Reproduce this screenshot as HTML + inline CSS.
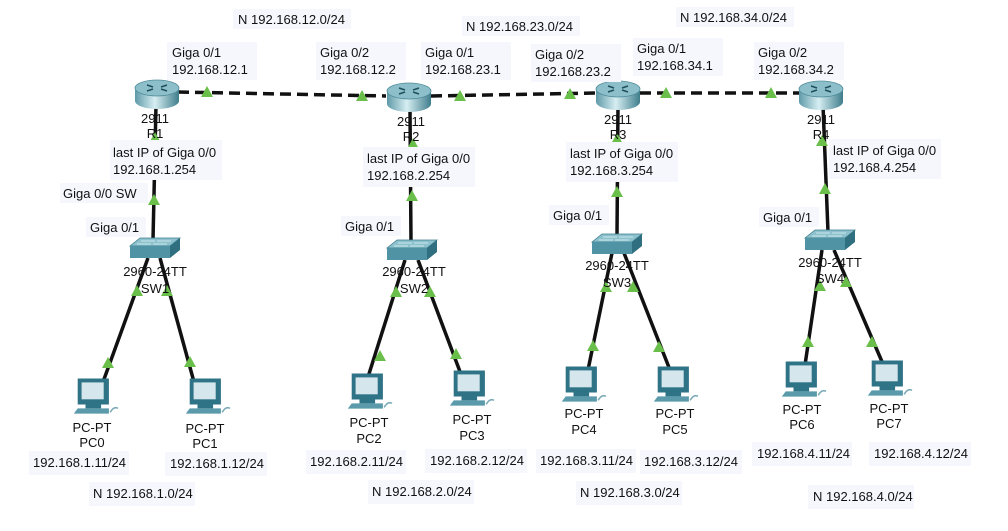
<!DOCTYPE html>
<html><head><meta charset="utf-8"><style>
html,body{margin:0;padding:0;background:#fff;}
svg{display:block;font-family:"Liberation Sans",Arial,sans-serif;font-size:13px;}
.bg{fill:#f5f7fd;}
</style></head><body>
<svg width="1008" height="531" viewBox="0 0 1008 531">
<defs>
<linearGradient id="rg" x1="0" x2="1" y1="0" y2="0">
<stop offset="0" stop-color="#5f9aa8"/><stop offset="0.45" stop-color="#d6eef2"/><stop offset="1" stop-color="#3f7d8c"/>
</linearGradient>
<g id="router">
<path d="M-22,0 L-22,13 A22,8 0 0 0 22,13 L22,0 Z" fill="url(#rg)"/>
<ellipse cx="0" cy="0" rx="22" ry="8" fill="#8dbfca" stroke="#4e8b99" stroke-width="0.8"/>
<path d="M-10,-3 l6,2 M10,-3 l-6,2 M-10,3 l6,-2 M10,3 l-6,-2" stroke="#1f4f5c" stroke-width="1.5"/>
</g>
<g id="sw">
<path d="M-25,-2 L-15,-10 L25,-10 L15,-2 Z" fill="#8cc1cd" stroke="#3d7d8c" stroke-width="0.8"/>
<path d="M-25,-2 L15,-2 L15,10 L-25,10 Z" fill="#4f93a5"/>
<path d="M15,-2 L25,-10 L25,2 L15,10 Z" fill="#2f6f80"/>
<path d="M-14,-7 h14 M2,-7 h14 M-18,-4 h14 M-2,-4 h14" stroke="#e0f2f5" stroke-width="0.8"/>
</g>
<g id="pc">
<g transform="scale(1.3)">
<rect x="-11" y="-15" width="24" height="20" fill="#2f7387"/>
<rect x="-8" y="-12" width="17" height="13" fill="#d5e6ec"/>
<rect x="-5" y="5" width="12" height="3" fill="#2f7387"/>
<path d="M-14,12 L-11,8 L13,8 L13,12 Z" fill="#5b9aab"/>
<path d="M14,11 q3,-5 6,-3" stroke="#7aaab6" fill="none" stroke-width="1.2"/>
</g>
</g>
<path id="tri" d="M-6,5 L6,5 L0,-6 Z" fill="#6abf4b"/>
</defs>

<g stroke="#111" stroke-width="3.5" stroke-dasharray="11,6" fill="none">
<line x1="178" y1="92" x2="386" y2="96"/>
<line x1="431" y1="96" x2="596" y2="93"/>
<line x1="640" y1="93" x2="800" y2="93"/>
</g>
<g stroke="#111" stroke-width="3.5" fill="none">
<line x1="156" y1="105" x2="153" y2="240"/>
<line x1="410" y1="110" x2="411" y2="242"/>
<line x1="618" y1="105" x2="617" y2="235"/>
<line x1="823" y1="105" x2="828" y2="232"/>
<line x1="148" y1="258" x2="103" y2="382"/>
<line x1="160" y1="258" x2="194" y2="382"/>
<line x1="405" y1="260" x2="368" y2="377"/>
<line x1="418" y1="260" x2="462" y2="377"/>
<line x1="612" y1="253" x2="588" y2="370"/>
<line x1="624" y1="253" x2="670" y2="370"/>
<line x1="822" y1="250" x2="805" y2="365"/>
<line x1="834" y1="250" x2="883" y2="364"/>
</g>

<use href="#router" x="157" y="88"/>
<use href="#router" x="409" y="91"/>
<use href="#router" x="618" y="89"/>
<use href="#router" x="821" y="89"/>
<use href="#sw" x="155" y="248"/>
<use href="#sw" x="412" y="250"/>
<use href="#sw" x="617" y="244"/>
<use href="#sw" x="830" y="240"/>
<use href="#pc" x="92" y="398"/>
<use href="#pc" x="204" y="398"/>
<use href="#pc" x="366" y="393"/>
<use href="#pc" x="468" y="390"/>
<use href="#pc" x="580" y="386"/>
<use href="#pc" x="672" y="386"/>
<use href="#pc" x="800" y="381"/>
<use href="#pc" x="886" y="380"/>

<use href="#tri" x="207" y="92"/><use href="#tri" x="362" y="96"/>
<use href="#tri" x="460" y="96"/><use href="#tri" x="570" y="94"/>
<use href="#tri" x="666" y="93"/><use href="#tri" x="771" y="93"/>
<use href="#tri" x="155" y="138"/><use href="#tri" x="154" y="200"/>
<use href="#tri" x="413" y="144"/><use href="#tri" x="412" y="196"/>
<use href="#tri" x="617" y="139"/><use href="#tri" x="617" y="192"/>
<use href="#tri" x="822" y="141"/><use href="#tri" x="825" y="189"/>
<use href="#tri" x="137" y="291"/><use href="#tri" x="167" y="291"/>
<use href="#tri" x="108" y="363"/><use href="#tri" x="190" y="362"/>
<use href="#tri" x="396" y="292"/><use href="#tri" x="430" y="292"/>
<use href="#tri" x="380" y="356"/><use href="#tri" x="456" y="354"/>
<use href="#tri" x="606" y="287"/><use href="#tri" x="633" y="287"/>
<use href="#tri" x="593" y="346"/><use href="#tri" x="659" y="347"/>
<use href="#tri" x="820" y="286"/><use href="#tri" x="846" y="282"/>
<use href="#tri" x="808" y="342"/><use href="#tri" x="872" y="342"/>

<g class="bg">
<rect x="233" y="9" width="118" height="20"/>
<rect x="167" y="42" width="90" height="38"/>
<rect x="316" y="42" width="90" height="38"/>
<rect x="421" y="42" width="90" height="38"/>
<rect x="462" y="16" width="118" height="20"/>
<rect x="531" y="44" width="90" height="38"/>
<rect x="633" y="38" width="90" height="38"/>
<rect x="676" y="7" width="118" height="20"/>
<rect x="754" y="42" width="90" height="38"/>
<rect x="110" y="140" width="112" height="40"/>
<rect x="363" y="147" width="112" height="40"/>
<rect x="566" y="142" width="112" height="40"/>
<rect x="829" y="139" width="112" height="40"/>
<rect x="60" y="183" width="88" height="20"/>
<rect x="86" y="217" width="60" height="20"/>
<rect x="341" y="216" width="60" height="20"/>
<rect x="549" y="205" width="60" height="20"/>
<rect x="759" y="207" width="60" height="20"/>
<rect x="29" y="451" width="100" height="24"/>
<rect x="165" y="452" width="102" height="24"/>
<rect x="306" y="450" width="100" height="24"/>
<rect x="425" y="449" width="102" height="24"/>
<rect x="536" y="449" width="100" height="24"/>
<rect x="640" y="450" width="102" height="24"/>
<rect x="752" y="442" width="100" height="24"/>
<rect x="869" y="442" width="102" height="24"/>
<rect x="89" y="482" width="106" height="24"/>
<rect x="368" y="480" width="106" height="24"/>
<rect x="576" y="481" width="106" height="24"/>
<rect x="808" y="485" width="106" height="24"/>
</g>

<g fill="#111">
<text x="238" y="24">N 192.168.12.0/24</text>
<text x="466" y="31">N 192.168.23.0/24</text>
<text x="680" y="22">N 192.168.34.0/24</text>
<text x="172" y="57">Giga 0/1</text><text x="172" y="74">192.168.12.1</text>
<text x="320" y="57">Giga 0/2</text><text x="320" y="74">192.168.12.2</text>
<text x="425" y="57">Giga 0/1</text><text x="425" y="74">192.168.23.1</text>
<text x="535" y="59">Giga 0/2</text><text x="535" y="76">192.168.23.2</text>
<text x="637" y="53">Giga 0/1</text><text x="637" y="70">192.168.34.1</text>
<text x="758" y="57">Giga 0/2</text><text x="758" y="74">192.168.34.2</text>
<text x="113" y="157">last IP of Giga 0/0</text><text x="113" y="174">192.168.1.254</text>
<text x="367" y="163">last IP of Giga 0/0</text><text x="367" y="180">192.168.2.254</text>
<text x="570" y="158">last IP of Giga 0/0</text><text x="570" y="175">192.168.3.254</text>
<text x="833" y="155">last IP of Giga 0/0</text><text x="833" y="172">192.168.4.254</text>
<text x="63" y="198">Giga 0/0 SW</text>
<text x="90" y="232">Giga 0/1</text>
<text x="345" y="231">Giga 0/1</text>
<text x="553" y="220">Giga 0/1</text>
<text x="763" y="222">Giga 0/1</text>
</g>
<g fill="#111" text-anchor="middle">
<text x="155" y="123">2911</text><text x="155" y="138">R1</text>
<text x="411" y="126">2911</text><text x="411" y="141">R2</text>
<text x="618" y="124">2911</text><text x="618" y="139">R3</text>
<text x="821" y="124">2911</text><text x="821" y="139">R4</text>
<text x="155" y="276">2960-24TT</text><text x="155" y="293">SW1</text>
<text x="414" y="276">2960-24TT</text><text x="414" y="293">SW2</text>
<text x="617" y="270">2960-24TT</text><text x="617" y="287">SW3</text>
<text x="830" y="267">2960-24TT</text><text x="830" y="283">SW4</text>
<text x="92" y="432">PC-PT</text><text x="92" y="447">PC0</text>
<text x="205" y="433">PC-PT</text><text x="205" y="448">PC1</text>
<text x="369" y="427">PC-PT</text><text x="369" y="443">PC2</text>
<text x="472" y="424">PC-PT</text><text x="472" y="440">PC3</text>
<text x="584" y="418">PC-PT</text><text x="584" y="434">PC4</text>
<text x="675" y="418">PC-PT</text><text x="675" y="434">PC5</text>
<text x="802" y="414">PC-PT</text><text x="802" y="429">PC6</text>
<text x="889" y="413">PC-PT</text><text x="889" y="428">PC7</text>
</g>
<g fill="#111">
<text x="33" y="467">192.168.1.11/24</text>
<text x="170" y="468">192.168.1.12/24</text>
<text x="310" y="466">192.168.2.11/24</text>
<text x="430" y="465">192.168.2.12/24</text>
<text x="540" y="465">192.168.3.11/24</text>
<text x="644" y="466">192.168.3.12/24</text>
<text x="757" y="458">192.168.4.11/24</text>
<text x="874" y="458">192.168.4.12/24</text>
<text x="93" y="498">N 192.168.1.0/24</text>
<text x="372" y="496">N 192.168.2.0/24</text>
<text x="580" y="497">N 192.168.3.0/24</text>
<text x="813" y="501">N 192.168.4.0/24</text>
</g>
</svg>
</body></html>
